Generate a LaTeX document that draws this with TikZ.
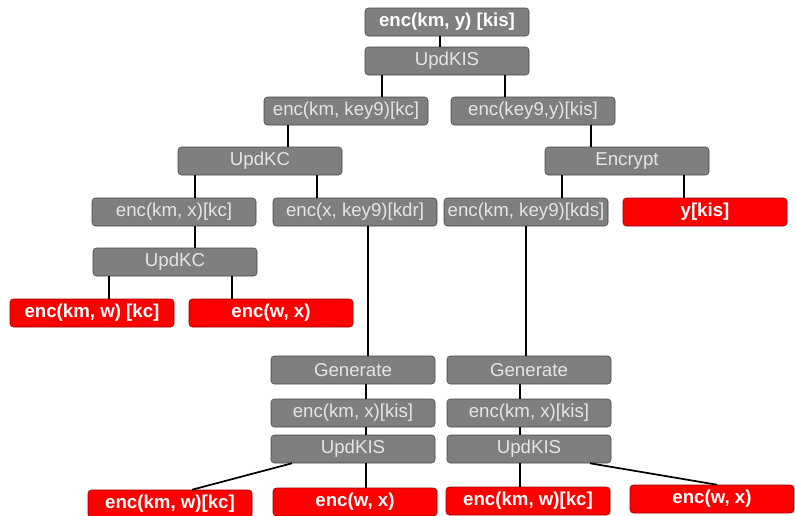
\documentclass[tikz,border=0pt]{standalone}
\usepackage{fontspec}
\setmainfont{Liberation Sans}
\definecolor{boxgray}{HTML}{7F7F7F}
\definecolor{boxred}{HTML}{FF0000}

\tikzset{
  op/.style={draw=boxgray!55!black, fill=boxgray, rounded corners=2.5pt,
    minimum width=123pt, minimum height=21pt, inner sep=0pt,
    text=white!90!black, font=\fontsize{14}{16}\selectfont},
  opbold/.style={op, text=white, font=\fontsize{14}{16}\selectfont\bfseries},
  leaf/.style={op, draw=boxred!60!black, fill=boxred, text=white,
    font=\fontsize{14}{16}\selectfont\bfseries},
  link/.style={line width=1.3pt}
}

\begin{document}
\begin{tikzpicture}[x=0.75pt,y=-0.75pt]
\useasboundingbox (0,0) rectangle (795,515);

% upper part
\node[opbold] (top) at (447,22) {enc(km, y) [kis]};
\node[op] (updA) at (447,61) {UpdKIS};
\node[op] (kmkey) at (346,111) {enc(km, key9)[kc]};
\node[op] (keyy) at (533,111) {enc(key9,y)[kis]};
\node[op] (updkcA) at (260,161) {UpdKC};
\node[op] (encr) at (627,161) {Encrypt};
\node[op] (kmx) at (174,212) {enc(km, x)[kc]};
\node[op] (xkey) at (355,212) {enc(x, key9)[kdr]};
\node[op] (kds) at (526,212) {enc(km, key9)[kds]};
\node[leaf] (ykis) at (705,212) {y[kis]};
\node[op] (updkcB) at (175,262) {UpdKC};
\node[leaf] (kmwA) at (92,313) {enc(km, w) [kc]};
\node[leaf] (wxA) at (271,313) {enc(w, x)};

% lower part
\node[op] (genL) at (353,370) {Generate};
\node[op] (kisL) at (353,413) {enc(km, x)[kis]};
\node[op] (updL) at (353,449) {UpdKIS};
\node[op] (genR) at (529,370) {Generate};
\node[op] (kisR) at (529,413) {enc(km, x)[kis]};
\node[op] (updR) at (529,449) {UpdKIS};
\node[leaf] (kmwB) at (170,504) {enc(km, w)[kc]};
\node[leaf] (wxB) at (355,502) {enc(w, x)};
\node[leaf] (kmwC) at (528,501) {enc(km, w)[kc]};
\node[leaf] (wxC) at (712,499) {enc(w, x)};

\begin{scope}[link]
\draw (top.south -| 440,0) -- (updA.north -| 440,0);
\draw (updA.south -| 382,0) -- (kmkey.north -| 382,0);
\draw (updA.south -| 505,0) -- (keyy.north -| 505,0);
\draw (kmkey.south -| 288,0) -- (updkcA.north -| 288,0);
\draw (keyy.south -| 591,0) -- (encr.north -| 591,0);
\draw (updkcA.south -| 195,0) -- (kmx.north -| 195,0);
\draw (updkcA.south -| 317,0) -- (xkey.north -| 317,0);
\draw (encr.south -| 562,0) -- (kds.north -| 562,0);
\draw (encr.south -| 684,0) -- (ykis.north -| 684,0);
\draw (kmx.south -| 195,0) -- (updkcB.north -| 195,0);
\draw (updkcB.south -| 109,0) -- (kmwA.north -| 109,0);
\draw (updkcB.south -| 232,0) -- (wxA.north -| 232,0);
\draw (xkey.south -| 368,0) -- (genL.north -| 368,0);
\draw (genL.south -| 366,0) -- (kisL.north -| 366,0);
\draw (kisL.south -| 366,0) -- (updL.north -| 366,0);
\draw (updL.south -| 366,0) -- (wxB.north -| 366,0);
\draw (updL.south -| 292,0) -- (kmwB.north -| 192,0);
\draw (kds.south -| 526,0) -- (genR.north -| 526,0);
\draw (genR.south -| 520,0) -- (kisR.north -| 520,0);
\draw (kisR.south -| 520,0) -- (updR.north -| 520,0);
\draw (updR.south -| 520,0) -- (kmwC.north -| 520,0);
\draw (updR.south -| 590,0) -- (wxC.north -| 717,0);
\end{scope}

\end{tikzpicture}
\end{document}
